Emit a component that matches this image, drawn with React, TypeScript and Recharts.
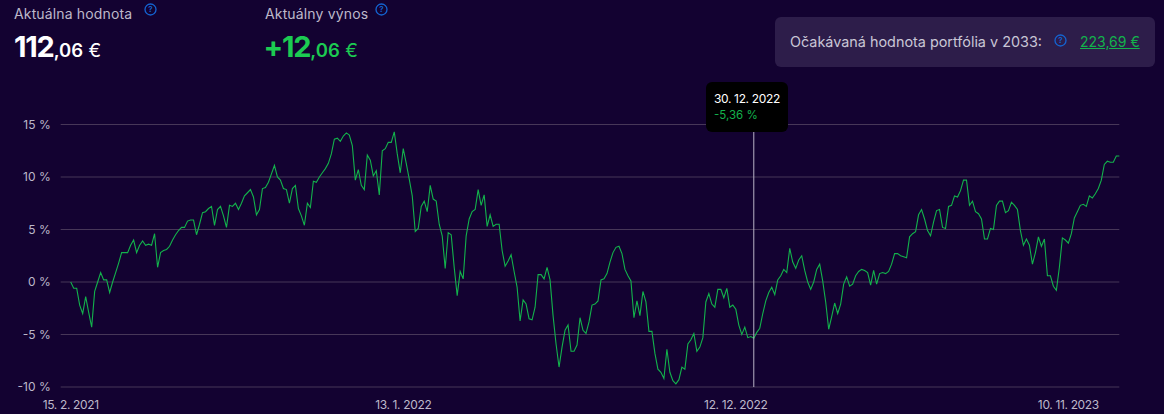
import { LineChart, Line, XAxis, YAxis, CartesianGrid, Tooltip } from "recharts";

const returns = [
  0, -0.6, -0.6, -2.2, -3, -1.4, -2.9, -4.3, -0.9, 0, 0.9, 0.2, 0.2, -1, 0, 0.9, 1.8, 2.8, 2.8, 2.8,
  3.5, 4, 2.8, 3.5, 3.9, 3.5, 3.6, 3.5, 4.6, 1.4, 2.8, 3, 3.1, 3.4, 4, 4.5, 4.9, 5.2, 5.2, 5.8,
  5.9, 5.9, 4.5, 5.5, 6.6, 6.7, 7, 7.2, 5.4, 6.9, 7.2, 6.3, 5.2, 7.3, 7.2, 7.5, 6.9, 7.5, 8.2, 8.5,
  8.8, 8.1, 6.4, 6.9, 8.9, 9, 9.5, 10.3, 11.1, 10, 9.7, 8.9, 8.8, 7.5, 8.9, 9.2, 7,
  6.3, 5.4, 7.5, 7.1, 9.6, 9.5, 10, 10.4, 10.8, 11.3, 12.2, 13.6, 13.7, 13.4, 13.9, 14.2, 14, 13, 9.7,
  10.7, 9.2, 8.8, 12.1, 11.6, 10.1, 10.6, 8.3, 12.5, 12.7, 13.3, 13.3, 14.3, 12.2, 10.4, 12.7, 11.3, 9.8, 8.2, 4.8,
  5.1, 7.2, 7.7, 6.7, 9.2, 7.9, 7.7, 5.5, 4.4, 1.3, 4.7, 4.5, 1.4, -1.3, 1, 0.3, 4.4, 6, 6.7, 6.9,
  8.8, 7.3, 8.3, 5.3, 6.4, 5.3, 5.5, 5.5, 3, 1.5, 2, 2.6, 1, -0.5, -3.7, -1.7, -2.1, -3.5, -3.6, -2.4,
  0.7, 0.7, 0.3, 1.4, 0.2,
  -3.2, -5.9, -8.1, -6.2, -4.6, -4.1, -6.6, -6.6, -6, -3.4, -4.6, -4.9, -3.8, -2.2, -2.1, -1.8, 0.2, 0.3, 0.8, 1.9,
  2.8, 3.3, 3.4, 2.7, 1.2, 0.6, 0.1, -3.4, -1.8, -3.2, -0.9, -1.9, -4.7, -4.7, -6.8, -8.3, -8.6, -9.2, -6.4, -8.6,
  -9.4, -9.7, -9.3, -8.1, -8.3, -5.9, -5.5, -4.9, -6.6, -6.2, -5.3, -1.9, -1.1, -2.1, -2.4, -0.7, -0.7, -1.5, -0.6, -2.4,
  -2.2, -2.6, -4.1, -5, -4.3, -5.3, -5.2, -5.36, -4.8, -4.4, -3, -1.8, -1, -0.5, -1.2, 0.2, 0.6, 1.2, 0.9, 3.2,
  1.9, 1.3, 2.1, 2.5, 1.1, 0, -0.7, 0, 1.2, 1.7, 0.1, -1.9, -4.5,
  -3.3, -2, -3, -2.1, -0.2, 0.5, -0.4, -0.2, 0.6, 1, 1.2, 1.1, 0.9, -0.3, 1.1, -0.2, 0.8, 0.9, 0.8, 1,
  1.7, 2.7, 2.7, 2.5, 2.4, 2.3, 4.3, 4.6, 4.8, 6.4, 6.9, 6, 4.9, 4.4, 5.7, 6.8, 6.9, 5.2, 5.1, 7.2,
  7.3, 8.2, 8.1, 8.7, 9.7, 9.7, 7.3, 7.7, 6.7, 6.5, 6, 4.1, 4.1, 5.1, 5, 7.3, 7.7, 7.7, 6.6, 6.8,
  7.6, 7.3, 6.9, 4.9, 3.5, 4.1, 3.5, 1.7, 2.8, 4.3, 3.4, 4.1, 0.6, 0.6, -0.4, -0.8, 1.4, 4.2, 4, 3.7,
  4.6, 6.1, 6.7, 7.3, 7.4, 7.2, 8.2, 8, 8.4, 8.9, 9.7, 11.2, 11.5, 11.4, 11.4, 12, 12,
];

const tickPositions = [0, 111, 222, 333];
const tickDates = ["15. 2. 2021", "13. 1. 2022", "12. 12. 2022", "10. 11. 2023"];
const percentTicks = [-10, -5, 0, 5, 10, 15];

const selectedIndex = returns.indexOf(-5.36);
const selectedDate = "30. 12. 2022";

const chartData = returns.map((value, i) => ({ i, value }));

const FONT = "Inter, 'Noto Sans', sans-serif";
const BG = "#130231";
const GREEN = "#13B24C";
const BRIGHT_GREEN = "#1CCB52";
const MUTED = "#BDB8CA";

function HelpIcon({ left, top }: { left: number; top: number }) {
  return (
    <svg width={13} height={13} viewBox="0 0 13 13" style={{ position: "absolute", left, top }}>
      <circle cx={6.5} cy={6.5} r={5.5} fill="none" stroke="#1464D2" strokeWidth={1.3} />
      <text x={6.5} y={9.4} textAnchor="middle" fontSize={8} fontWeight={600} fontFamily={FONT} fill="#1464D2">
        ?
      </text>
    </svg>
  );
}

function Stat({ left, label, whole, decimals, color, offset = 0 }: { left: number; label: string; whole: string; decimals: string; color: string; offset?: number }) {
  return (
    <div style={{ position: "absolute", left, top: 0, fontFamily: FONT, color }}>
      <div style={{ position: "absolute", left: 0, top: 5, fontSize: 14, letterSpacing: 0.15, color: MUTED, whiteSpace: "nowrap" }}>{label}</div>
      <div style={{ position: "absolute", left: offset, top: 27, whiteSpace: "nowrap", fontWeight: 700, fontSize: 29, lineHeight: "40px", letterSpacing: -1.2 }}>
        {whole}
        <span style={{ fontSize: 18.5, fontWeight: 600, letterSpacing: 0 }}>{decimals}</span>
        <span style={{ fontSize: 19, fontWeight: 400, letterSpacing: 0 }}> €</span>
      </div>
    </div>
  );
}

function SelectedTooltip() {
  return (
    <div style={{ width: 82, height: 50, boxSizing: "border-box", padding: "9px 8px", background: "#000", borderRadius: 6, fontFamily: FONT, whiteSpace: "nowrap" }}>
      <div style={{ fontSize: 12, letterSpacing: -0.35, lineHeight: "16px", color: "#fff" }}>{selectedDate}</div>
      <div style={{ fontSize: 11.5, lineHeight: "17px", color: GREEN }}>-5,36 %</div>
    </div>
  );
}

export default function App() {
  return (
    <div style={{ position: "absolute", left: 0, top: 0, width: 1164, height: 414, overflow: "hidden", background: BG }}>
      <Stat left={14} label="Aktuálna hodnota" whole="112" decimals=",06" color="#fff" />
      <HelpIcon left={144} top={3} />
      <Stat left={265} label="Aktuálny výnos" whole="+12" decimals=",06" color={BRIGHT_GREEN} offset={-1.5} />
      <HelpIcon left={375} top={3} />

      <div style={{ position: "absolute", left: 775, top: 17, width: 380, height: 50, background: "#2D1D4A", borderRadius: 6, fontFamily: FONT }}>
        <div style={{ position: "absolute", left: 15, top: 16, fontSize: 14.4, color: "#C9C6D6", whiteSpace: "nowrap" }}>
          Očakávaná hodnota portfólia v 2033:
        </div>
        <HelpIcon left={279} top={17} />
        <div style={{ position: "absolute", left: 305, top: 16, fontSize: 14, color: GREEN, textDecoration: "underline", whiteSpace: "nowrap" }}>
          223,69 €
        </div>
      </div>

      <div style={{ position: "absolute", left: 0, top: 0 }}>
        <LineChart width={1164} height={414} data={chartData} margin={{ top: 124.5, right: 44.7, bottom: 0, left: 0 }}>
          <CartesianGrid vertical={false} stroke="#473758" strokeWidth={1} />
          <XAxis
            dataKey="i"
            type="number"
            domain={[0, returns.length - 1]}
            ticks={tickPositions}
            tickFormatter={(v: number) => tickDates[tickPositions.indexOf(v)]}
            interval={0}
            padding={{ left: 10 }}
            height={27}
            axisLine={false}
            tickLine={false}
            tickSize={0}
            tickMargin={13}
            tick={{ fontSize: 12, letterSpacing: -0.35, fill: MUTED, fontFamily: FONT }}
          />
          <YAxis
            domain={[-10, 15]}
            ticks={percentTicks}
            tickFormatter={(v: number) => `${v} %`}
            width={60.7}
            axisLine={false}
            tickLine={false}
            tickSize={0}
            tickMargin={10}
            tick={{ fontSize: 12, fill: MUTED, fontFamily: FONT }}
          />
          <Tooltip
            defaultIndex={selectedIndex}
            position={{ x: 706, y: 82 }}
            allowEscapeViewBox={{ x: true, y: true }}
            cursor={{ stroke: "#B8B3C6", strokeWidth: 1 }}
            isAnimationActive={false}
            content={() => <SelectedTooltip />}
          />
          <Line
            dataKey="value"
            type="linear"
            stroke={GREEN}
            strokeWidth={1.1}
            dot={false}
            activeDot={false}
            isAnimationActive={false}
          />
        </LineChart>
      </div>
    </div>
  );
}
